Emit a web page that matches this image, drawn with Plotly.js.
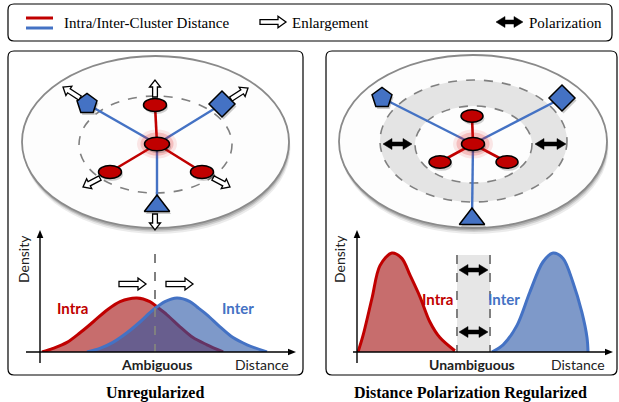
<!DOCTYPE html>
<html><head><meta charset="utf-8">
<script src="https://cdn.plot.ly/plotly-3.0.1.min.js"></script>
<style>html,body{margin:0;padding:0;background:#fff}</style>
</head><body><div id="chart" style="width:619px;height:402px"></div>
<script>
// ---------------- data ----------------
// density curves (distance 0-10, density 0-1)
const leftIntraX = [0.08,0.51,1.06,1.57,2.08,2.63,3.14,3.80,4.31,4.59,4.98,5.49,6.00,6.55,7.18];
const leftIntraY = [0,0.03,0.08,0.16,0.25,0.35,0.42,0.45,0.42,0.375,0.31,0.21,0.12,0.06,0];
const leftInterX = [1.84,2.35,2.86,3.41,3.92,4.43,4.90,5.37,5.88,6.16,6.55,7.06,7.57,8.12,8.90];
const leftInterY = [0,0.03,0.08,0.16,0.25,0.35,0.42,0.45,0.42,0.375,0.31,0.21,0.12,0.06,0];
const rightIntraX = [0.04,0.24,0.59,0.90,1.37,1.76,2.08,2.47,2.86,3.25,3.84];
const rightIntraY = [0,0.14,0.45,0.72,0.825,0.78,0.64,0.46,0.25,0.12,0.01];
const rightInterX = [5.29,5.73,6.27,6.78,7.29,7.69,8.08,8.47,8.82,9.02,9.06];
const rightInterY = [0,0.06,0.22,0.50,0.75,0.825,0.78,0.58,0.33,0.12,0];

// cluster diagrams (node positions in figure pixels)
const leftCenter = [157,144];
const leftIntraNodesX = [155,110,202];
const leftIntraNodesY = [105,172,172];
const leftInterNodesX = [87,222,157];
const leftInterNodesY = [104,104,206];
const rightCenter = [473,144];
const rightIntraNodesX = [472,440,507];
const rightIntraNodesY = [116,162,162];
const rightInterNodesX = [382,562,472];
const rightInterNodesY = [98,98,219];
const interSymbols = ['pentagon','diamond','triangle-up'];
const interSizes = [21,20,22];

// text
const legendLabels = ['Intra/Inter-Cluster Distance','Enlargement','Polarization'];
const captions = ['Unregularized','Distance Polarization Regularized'];

// ---------------- helpers (pixel coords, converted to paper at the end) ----------------
const W=619,H=402;
const RED='#c00000', BLUE='#4472c4', GRAY='#808080';
function ell(cx,cy,rx,ry,o){return Object.assign({type:'circle',layer:'below',x0:cx-rx,x1:cx+rx,y0:cy-ry,y1:cy+ry},o);}
function rrect(x0,y0,x1,y1,r,o){
  const p=`M${x0+r},${y0}L${x1-r},${y0}Q${x1},${y0} ${x1},${y0+r}L${x1},${y1-r}Q${x1},${y1} ${x1-r},${y1}L${x0+r},${y1}Q${x0},${y1} ${x0},${y1-r}L${x0},${y0+r}Q${x0},${y0} ${x0+r},${y0}Z`;
  return Object.assign({type:'path',layer:'below',path:p},o);
}
function arrowPath(x0,y0,x1,y1,sw,hw,hl,dbl){
  const dx=x1-x0,dy=y1-y0,len=Math.hypot(dx,dy),ux=dx/len,uy=dy/len,nx=-uy,ny=ux;
  const bx=x1-ux*hl,by=y1-uy*hl,ax=x0+ux*hl,ay=y0+uy*hl;
  let pts;
  if(!dbl){
    pts=[[x0+nx*sw,y0+ny*sw],[bx+nx*sw,by+ny*sw],[bx+nx*hw,by+ny*hw],[x1,y1],[bx-nx*hw,by-ny*hw],[bx-nx*sw,by-ny*sw],[x0-nx*sw,y0-ny*sw]];
  } else {
    pts=[[x0,y0],[ax+nx*hw,ay+ny*hw],[ax+nx*sw,ay+ny*sw],[bx+nx*sw,by+ny*sw],[bx+nx*hw,by+ny*hw],[x1,y1],[bx-nx*hw,by-ny*hw],[bx-nx*sw,by-ny*sw],[ax-nx*sw,ay-ny*sw],[ax-nx*hw,ay-ny*hw]];
  }
  return 'M'+pts.map(p=>p[0].toFixed(2)+','+p[1].toFixed(2)).join('L')+'Z';
}
function hollow(x0,y0,x1,y1,sw,hw,hl){
  return {type:'path',layer:'above',path:arrowPath(x0,y0,x1,y1,sw||2.4,hw||5.5,hl||7),fillcolor:'#fff',line:{color:'#000',width:1.3}};
}
function solid2(x0,y0,x1,y1){
  return {type:'path',layer:'above',path:arrowPath(x0,y0,x1,y1,2,5.5,9,true),fillcolor:'#000',line:{color:'#000',width:0.5}};
}
function axisArrow(x0,y0,x1,y1){
  const dx=x1-x0,dy=y1-y0,len=Math.hypot(dx,dy),ux=dx/len,uy=dy/len,nx=-uy,ny=ux,hl=8,hw=3.3;
  const bx=x1-ux*hl,by=y1-uy*hl;
  return [
    {type:'line',layer:'above',x0:x0,y0:y0,x1:bx+ux*2,y1:by+uy*2,line:{color:'#000',width:1.4}},
    {type:'path',layer:'above',path:`M${x1},${y1}L${(bx+nx*hw).toFixed(2)},${(by+ny*hw).toFixed(2)}L${(bx-nx*hw).toFixed(2)},${(by-ny*hw).toFixed(2)}Z`,fillcolor:'#000',line:{width:0}}
  ];
}
function line(x0,y0,x1,y1,o){return Object.assign({type:'line',x0,y0,x1,y1},o);}
function toPaper(s){
  const o=Object.assign({},s,{xref:'paper',yref:'paper'});
  if(s.type==='path'){
    o.path=s.path.replace(/(-?[\d.]+),(-?[\d.]+)/g,(m,a,b)=>(+a/W).toFixed(5)+','+(1-(+b)/H).toFixed(5));
  } else {
    o.x0=s.x0/W;o.x1=s.x1/W;o.y0=1-s.y0/H;o.y1=1-s.y1/H;
  }
  return o;
}

// ---------------- shapes ----------------
const shapes=[];
shapes.push(rrect(8,4,612,41,6,{line:{color:'#000',width:1.2},fillcolor:'rgba(0,0,0,0)'}));
shapes.push(rrect(8,51,303,375,6,{line:{color:'#000',width:1.2},fillcolor:'rgba(0,0,0,0)'}));
shapes.push(rrect(326,51,617,375,6,{line:{color:'#000',width:1.2},fillcolor:'rgba(0,0,0,0)'}));
[[155.5,142,133.5,86],[473,141.5,134,86.5]].forEach(([cx,cy,rx,ry])=>{
  shapes.push(ell(cx+1.5,cy+6,rx,ry,{fillcolor:'rgba(0,0,0,0.08)',line:{width:0}}));
  shapes.push(ell(cx+1,cy+4,rx,ry,{fillcolor:'rgba(0,0,0,0.12)',line:{width:0}}));
  shapes.push(ell(cx+0.5,cy+2.5,rx,ry,{fillcolor:'rgba(0,0,0,0.16)',line:{width:0}}));
  shapes.push(ell(cx,cy,rx,ry,{fillcolor:'#fdfdfd',line:{color:'#8a8a8a',width:1.8}}));
});
shapes.push(ell(155.5,144.5,76.5,48.5,{line:{color:GRAY,width:1.6,dash:'dash'}}));
shapes.push(ell(473.5,141,93.5,61,{fillcolor:'#e4e4e4',line:{color:GRAY,width:1.6,dash:'dash'}}));
shapes.push(ell(473.5,144.5,58.5,38.5,{fillcolor:'#fdfdfd',line:{color:GRAY,width:1.6,dash:'dash'}}));
shapes.push({type:'rect',layer:'below',x0:457,x1:490,y0:255,y1:352,fillcolor:'#e6e6e6',line:{width:0}});

// above-layer
[leftCenter,rightCenter].forEach(c=>{
  shapes.push(ell(c[0],c[1],20,14.5,{layer:'above',fillcolor:'rgba(225,30,30,0.10)',line:{width:0}}));
  shapes.push(ell(c[0],c[1],16.5,11.5,{layer:'above',fillcolor:'rgba(225,30,30,0.20)',line:{width:0}}));
});
function redNode(x,y,rx,ry){
  shapes.push(ell(x+1.5,y+2.5,rx,ry,{layer:'above',fillcolor:'rgba(0,0,0,0.18)',line:{width:0}}));
  shapes.push(ell(x,y,rx,ry,{layer:'above',fillcolor:RED,line:{color:'#000',width:1.5}}));
}
redNode(leftCenter[0],leftCenter[1],12.5,6.8);
leftIntraNodesX.forEach((x,i)=>redNode(x,leftIntraNodesY[i],11.5,6.5));
redNode(rightCenter[0],rightCenter[1],11.5,6.5);
rightIntraNodesX.forEach((x,i)=>redNode(x,rightIntraNodesY[i],11,6.3));

shapes.push(hollow(155,97,155,80));
shapes.push(hollow(80,98,63,87));
shapes.push(hollow(231,99,248,88));
shapes.push(hollow(100,178,83,187));
shapes.push(hollow(213,178,230,187));
shapes.push(hollow(155,214,155,230));
shapes.push(solid2(383,144,412,144));
shapes.push(solid2(535,144,566,144));
shapes.push(line(26,18,53,18,{layer:'above',line:{color:RED,width:3}}));
shapes.push(line(26,28,53,28,{layer:'above',line:{color:BLUE,width:3}}));
shapes.push(hollow(260,22,286,22,2.4,5.8,8));
shapes.push(solid2(496,22,523,22));
shapes.push(line(155,254,155,352,{layer:'above',line:{color:GRAY,width:2,dash:'dash'}}));
shapes.push(hollow(119,284,146,284,2.6,6,8));
shapes.push(hollow(166,284,193,284,2.6,6,8));
shapes.push(line(457,255,457,352,{layer:'above',line:{color:GRAY,width:2,dash:'dash'}}));
shapes.push(line(490,255,490,352,{layer:'above',line:{color:GRAY,width:2,dash:'dash'}}));
shapes.push(solid2(459,270,488,270));
shapes.push(solid2(459,332,488,332));
shapes.push(...axisArrow(26,352,296,352));
shapes.push(...axisArrow(40,363,40,230));
shapes.push(...axisArrow(353,352,613,352));
shapes.push(...axisArrow(357,363,357,230));

// ---------------- traces ----------------
function edges(c,xs,ys){const X=[],Y=[];xs.forEach((x,i)=>{X.push(c[0],x,null);Y.push(c[1],ys[i],null);});return {X,Y};}
const traces=[];
[[leftCenter,leftIntraNodesX,leftIntraNodesY,leftInterNodesX,leftInterNodesY],[rightCenter,rightIntraNodesX,rightIntraNodesY,rightInterNodesX,rightInterNodesY]].forEach(([c,ix,iy,ex,ey])=>{
  const e1=edges(c,ex,ey), e2=edges(c,ix,iy);
  traces.push({x:e1.X,y:e1.Y,xaxis:'x',yaxis:'y',mode:'lines',line:{color:BLUE,width:2.4},hoverinfo:'skip',connectgaps:false});
  traces.push({x:e2.X,y:e2.Y,xaxis:'x',yaxis:'y',mode:'lines',line:{color:RED,width:2.6},hoverinfo:'skip',connectgaps:false});
  traces.push({x:ex.map(v=>v+1.5),y:ey.map(v=>v+2.5),xaxis:'x',yaxis:'y',mode:'markers',marker:{symbol:interSymbols,size:interSizes,color:'rgba(0,0,0,0.2)',opacity:1,line:{width:0}},hoverinfo:'skip'});
  traces.push({x:ex,y:ey,xaxis:'x',yaxis:'y',mode:'markers',marker:{symbol:interSymbols,size:interSizes,color:BLUE,opacity:1,line:{color:'#000',width:1.5}},hoverinfo:'skip'});
});
const redFill='rgba(165,20,20,0.62)', blueFill='rgba(40,85,165,0.6)';
function dens(x,y,ax,col,fill){return {x,y,xaxis:ax[0],yaxis:ax[1],mode:'lines',fill:'tozeroy',fillcolor:fill,line:{color:col,width:3,shape:'spline',smoothing:0.9},hoverinfo:'skip'};}
traces.push(dens(leftIntraX,leftIntraY,['x2','y2'],RED,redFill));
traces.push(dens(leftInterX,leftInterY,['x2','y2'],BLUE,blueFill));
traces.push(dens(rightIntraX,rightIntraY,['x3','y3'],RED,redFill));
traces.push(dens(rightInterX,rightInterY,['x3','y3'],BLUE,blueFill));

// ---------------- annotations ----------------
const SANS='Lato, "Open Sans", sans-serif', SERIF='"Liberation Serif", "Times New Roman", serif';
function txt(x,y,t,f,o){return Object.assign({x:x/W,y:1-y/H,xref:'paper',yref:'paper',text:t,showarrow:false,font:f,xanchor:'center',yanchor:'middle'},o||{});}
const annotations=[
  txt(62,23,legendLabels[0],{family:SERIF,size:15,color:'#000'},{xanchor:'left'}),
  txt(290,23,legendLabels[1],{family:SERIF,size:15,color:'#000'},{xanchor:'left'}),
  txt(527,23,legendLabels[2],{family:SERIF,size:15,color:'#000'},{xanchor:'left'}),
  txt(23,259,'Density',{family:SANS,size:14,color:'#222'},{textangle:-90}),
  txt(339,259,'Density',{family:SANS,size:14,color:'#222'},{textangle:-90}),
  txt(72,308,'Intra',{family:SANS,size:15,color:RED,weight:'bold'}),
  txt(238,308,'Inter',{family:SANS,size:15,color:BLUE,weight:'bold'}),
  txt(156,364,'Ambiguous',{family:SANS,size:14,color:'#222',weight:'bold'}),
  txt(262,364,'Distance',{family:SANS,size:14,color:'#222'}),
  txt(437,299,'Intra',{family:SANS,size:15,color:RED,weight:'bold'}),
  txt(504,299,'Inter',{family:SANS,size:15,color:BLUE,weight:'bold'}),
  txt(472,364,'Unambiguous',{family:SANS,size:14,color:'#222',weight:'bold'}),
  txt(578,364,'Distance',{family:SANS,size:14,color:'#222'}),
  txt(155,393,captions[0],{family:SERIF,size:16,color:'#000',weight:'bold'}),
  txt(470,393,captions[1],{family:SERIF,size:16,color:'#000',weight:'bold'})
];

const hid={visible:false,fixedrange:true,showgrid:false,zeroline:false};
const layout={
  width:619,height:402,margin:{l:0,r:0,t:0,b:0},
  paper_bgcolor:'#fff',plot_bgcolor:'rgba(0,0,0,0)',showlegend:false,
  xaxis:Object.assign({range:[0,619],domain:[0,1]},hid),
  yaxis:Object.assign({range:[402,0],domain:[0,1]},hid),
  xaxis2:Object.assign({range:[0,10],domain:[40/619,295/619],anchor:'y2'},hid),
  yaxis2:Object.assign({range:[0,1],domain:[50/402,170/402],anchor:'x2'},hid),
  xaxis3:Object.assign({range:[0,10],domain:[357/619,612/619],anchor:'y3'},hid),
  yaxis3:Object.assign({range:[0,1],domain:[50/402,170/402],anchor:'x3'},hid),
  shapes:shapes.map(toPaper),annotations
};
Plotly.newPlot('chart',traces,layout,{displayModeBar:false,staticPlot:true});
</script></body></html>
